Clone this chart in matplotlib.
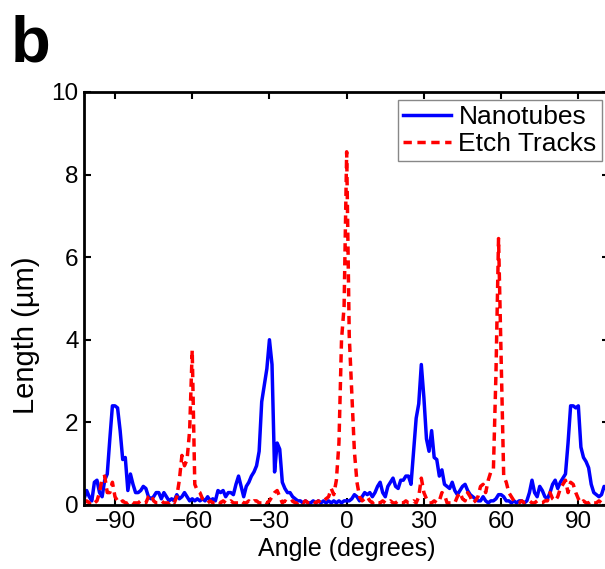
import matplotlib
matplotlib.use("Agg")
from matplotlib import pyplot as plt
import numpy as np

plt.rcParams['font.family'] = ['Liberation Sans', 'DejaVu Sans']

# angle in degrees, 1 degree steps from -102 to 102
angle = np.arange(-102, 103)

# Nanotubes length (um)
nanotubes = [
    0.15, 0.35, 0.2, 0.1, 0.55, 0.6, 0.3, 0.2, 0.6, 0.75,      # -102..-93
    1.6, 2.4, 2.4, 2.35, 1.8, 1.1, 1.15, 0.35, 0.75, 0.5,      # -92..-83
    0.3, 0.3, 0.35, 0.45, 0.4, 0.2, 0.15, 0.2, 0.3, 0.3,       # -82..-73
    0.15, 0.3, 0.2, 0.1, 0.15, 0.1, 0.25, 0.15, 0.2, 0.3,      # -72..-63
    0.2, 0.1, 0.15, 0.1, 0.15, 0.1, 0.15, 0.1, 0.2, 0.1,       # -62..-53
    0.15, 0.1, 0.35, 0.3, 0.35, 0.2, 0.3, 0.3, 0.25, 0.5,      # -52..-43
    0.7, 0.45, 0.2, 0.45, 0.55, 0.7, 0.8, 0.95, 1.3, 2.5,      # -42..-33
    2.9, 3.3, 4.0, 3.4, 0.8, 1.5, 1.35, 0.55, 0.4, 0.3,        # -32..-23
    0.3, 0.2, 0.15, 0.1, 0.1, 0.05, 0.1, 0.05, 0.05, 0.1,      # -22..-13
    0.05, 0.1, 0.05, 0.1, 0.05, 0.1, 0.05, 0.1, 0.05, 0.1,     # -12..-3
    0.05, 0.1, 0.1, 0.1, 0.15, 0.25, 0.2, 0.1, 0.2, 0.3,       # -2..7
    0.25, 0.3, 0.2, 0.3, 0.45, 0.55, 0.3, 0.2, 0.45, 0.55,     # 8..17
    0.65, 0.45, 0.4, 0.6, 0.6, 0.7, 0.7, 0.5, 1.3, 2.1,        # 18..27
    2.45, 3.4, 2.6, 1.6, 1.3, 1.8, 1.15, 1.1, 0.7, 0.85,       # 28..37
    0.5, 0.45, 0.4, 0.55, 0.35, 0.25, 0.35, 0.45, 0.5, 0.35,   # 38..47
    0.25, 0.2, 0.15, 0.1, 0.1, 0.2, 0.1, 0.05, 0.1, 0.1,       # 48..57
    0.15, 0.25, 0.25, 0.2, 0.1, 0.1, 0.05, 0.1, 0.05, 0.1,     # 58..67
    0.1, 0.05, 0.1, 0.3, 0.6, 0.3, 0.2, 0.45, 0.35, 0.2,       # 68..77
    0.15, 0.3, 0.5, 0.6, 0.4, 0.55, 0.65, 0.75, 1.5, 2.4,      # 78..87
    2.4, 2.35, 2.4, 1.4, 1.15, 1.05, 0.9, 0.5, 0.3, 0.25,      # 88..97
    0.2, 0.25, 0.45, 0.4, 0.3,                                 # 98..102
]

# Etch tracks length (um)
etch_tracks = [
    0.05, 0.1, 0.05, 0.1, 0.05, 0.1, 0.3, 0.65, 0.7, 0.3,      # -102..-93
    0.3, 0.55, 0.2, 0.1, 0.05, 0.1, 0.05, 0.05, 0.1, 0.05,     # -92..-83
    0.05, 0.05, 0.1, 0.05, 0.05, 0.2, 0.25, 0.1, 0.05, 0.05,   # -82..-73
    0.1, 0.05, 0.05, 0.05, 0.1, 0.05, 0.2, 0.6, 1.2, 0.95,     # -72..-63
    1.1, 1.8, 3.75, 0.5, 0.35, 0.3, 0.15, 0.1, 0.05, 0.1,      # -62..-53
    0.05, 0.05, 0.1, 0.05, 0.1, 0.05, 0.05, 0.1, 0.05, 0.05,   # -52..-43
    0.05, 0.1, 0.05, 0.05, 0.1, 0.05, 0.1, 0.1, 0.05, 0.05,    # -42..-33
    0.1, 0.05, 0.1, 0.2, 0.3, 0.35, 0.2, 0.05, 0.1, 0.05,      # -32..-23
    0.05, 0.1, 0.05, 0.05, 0.1, 0.05, 0.1, 0.05, 0.05, 0.1,    # -22..-13
    0.05, 0.1, 0.05, 0.1, 0.15, 0.2, 0.4, 0.25, 0.6, 1.5,      # -12..-3
    4.0, 4.8, 8.55, 4.1, 2.7, 1.3, 0.55, 0.2, 0.1, 0.15,       # -2..7
    0.2, 0.1, 0.05, 0.1, 0.05, 0.05, 0.1, 0.05, 0.05, 0.1,     # 8..17
    0.05, 0.05, 0.1, 0.05, 0.05, 0.1, 0.05, 0.05, 0.1, 0.05,   # 18..27
    0.2, 0.65, 0.3, 0.15, 0.05, 0.05, 0.1, 0.05, 0.1, 0.3,     # 28..37
    0.25, 0.05, 0.05, 0.05, 0.05, 0.2, 0.3, 0.15, 0.1, 0.3,    # 38..47
    0.2, 0.05, 0.1, 0.2, 0.45, 0.5, 0.3, 0.6, 0.8, 0.85,       # 48..57
    3.2, 6.45, 3.6, 0.7, 0.55, 0.3, 0.2, 0.1, 0.05, 0.05,      # 58..67
    0.1, 0.05, 0.05, 0.1, 0.05, 0.05, 0.1, 0.05, 0.05, 0.1,    # 68..77
    0.1, 0.3, 0.15, 0.1, 0.2, 0.4, 0.5, 0.6, 0.3, 0.55,        # 78..87
    0.5, 0.3, 0.15, 0.05, 0.1, 0.05, 0.05, 0.1, 0.05, 0.05,    # 88..97
    0.1, 0.05, 0.05, 0.1, 0.05,                                # 98..102
]

xticks = [-90, -60, -30, 0, 30, 60, 90]
yticks = [0, 2, 4, 6, 8, 10]

fig = plt.figure(figsize=(6.05, 5.69), dpi=100)
ax = fig.add_axes([0.139, 0.1125, 0.868, 0.726])

ax.plot(angle, nanotubes, color='#0000ff', linestyle='-', linewidth=2.5, label='Nanotubes')
ax.plot(angle, etch_tracks, color='#ff0000', linestyle=(0, (2.4, 1.6)), linewidth=2.5, label='Etch Tracks')

ax.set_xlim(-102, 102)
ax.set_ylim(0, 10)
ax.set_xticks(xticks)
ax.set_yticks(yticks)
ax.tick_params(direction='in', length=5, width=1.5, labelsize=17.5, top=True, right=True)
ax.tick_params(axis='x', pad=4)
ax.tick_params(axis='y', pad=4)
for s in ax.spines.values():
    s.set_linewidth(2)

ax.set_xlabel('Angle (degrees)', fontsize=18)
ax.set_ylabel('Length (µm)', fontsize=21)
ax.xaxis.set_label_coords(0.5, -0.078)
ax.yaxis.set_label_coords(-0.084, 0.41)

leg = ax.legend(loc='upper right', bbox_to_anchor=(0.995, 0.824), bbox_transform=fig.transFigure,
                fontsize=19, frameon=True, fancybox=False, edgecolor='#888888',
                handlelength=1.8, handletextpad=0.3, borderpad=0.2, labelspacing=0.1,
                borderaxespad=0, framealpha=1)
leg.get_frame().set_linewidth(1)

fig.text(0.018, 0.975, 'b', fontsize=47, fontweight='bold', va='top', ha='left')

plt.savefig('out.png', dpi=100)
